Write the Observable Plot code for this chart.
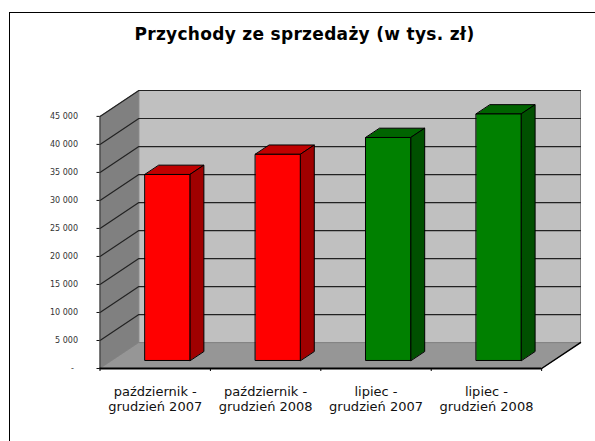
<!DOCTYPE html>
<html><head><meta charset="utf-8">
<script src="https://cdn.jsdelivr.net/npm/d3@7"></script>
<script src="https://cdn.jsdelivr.net/npm/@observablehq/plot@0.6"></script>
<style>html,body{margin:0;padding:0;background:#fff}svg{display:block}</style>
</head><body><div id="chart"></div>
<script>
const categories = ["październik -\ngrudzień 2007","październik -\ngrudzień 2008","lipiec -\ngrudzień 2007","lipiec -\ngrudzień 2008"];
const values = [33200,36800,39800,44000];
const frontColors = ["#ff0000","#ff0000","#008000","#008000"];
const topColors = ["#c00000","#c00000","#006400","#006400"];
const sideColors = ["#a00000","#a00000","#005000","#005000"];
const yTicks = [0,5000,10000,15000,20000,25000,30000,35000,40000,45000];
const yMax = 45000;
// projection: category units + depth share
const depthX = 0.352, depthY = 4620;
const P = (c,v,d)=>({x:c+d*depthX,y:v+d*depthY});
const barL = 0.299, barR = 0.705, d0 = 0.31, d1 = 0.67;
let faces = [];
const face = (pts,fill,stroke)=>faces.push({pts,fill,stroke});
const n = categories.length;
face([P(0,0,0),P(0,yMax,0),P(0,yMax,1),P(0,0,1)],"#808080","#808080");
face([P(0,0,1),P(0,yMax,1),P(n,yMax,1),P(n,0,1)],"#c0c0c0","#808080");
face([P(0,0,0),P(n,0,0),P(n,0,1),P(0,0,1)],"#969696","#808080");
const rows = faces.flatMap((f,i)=>f.pts.map(p=>({...p,i,fill:f.fill,stroke:f.stroke})));
let grid=[];
yTicks.slice(1).forEach((t,i)=>{[P(0,t,0),P(0,t,1),P(n,t,1)].forEach(p=>grid.push({...p,i}))});
let bars=[];
values.forEach((v,k)=>{
 const a=k+barL,b=k+barR;
 const add=(pts,fill)=>pts.forEach(p=>bars.push({...p,i:k+"-"+fill,fill}));
 add([P(a,v,d0),P(b,v,d0),P(b,v,d1),P(a,v,d1)],topColors[k]);
 add([P(b,0,d0),P(b,v,d0),P(b,v,d1),P(b,0,d1)],sideColors[k]);
 add([P(a,0,d0),P(b,0,d0),P(b,v,d0),P(a,v,d0)],frontColors[k]);
});
const labelRows=categories.map((c,k)=>({x:k+0.5,y:0,t:c}));
const chart = Plot.plot({
 width:595,height:441,
 marginLeft:99.5,marginRight:15,marginTop:90,marginBottom:73,
 x:{domain:[0,n+depthX],axis:null},
 y:{domain:[0,yMax+depthY],axis:null},
 style:{background:"#fff",fontFamily:"'DejaVu Sans',Verdana,sans-serif"},
 marks:[
  Plot.line(rows,{x:"x",y:"y",z:"i",fill:{value:d=>d.fill,scale:null},stroke:{value:d=>d.stroke,scale:null},strokeWidth:1,curve:"linear-closed"}),
  Plot.line(grid,{x:"x",y:"y",z:"i",stroke:"#222",strokeWidth:1.2}),
  Plot.line(bars,{x:"x",y:"y",z:"i",fill:{value:d=>d.fill,scale:null},stroke:"#000",strokeWidth:1,curve:"linear-closed"}),
  Plot.axisY({ticks:yTicks,anchor:"left",tickSize:3,tickPadding:19,fontSize:8,fill:"#333",stroke:"#111",label:null,
    tickFormat:d=>d===0?"-\u2002":d3.format(",")(d).replace(",", " ")}),
  Plot.ruleX([0],{y1:0,y2:yMax,stroke:"#333"}),
  Plot.ruleY([0],{x1:0,x2:n,stroke:"#000",strokeWidth:2}),
  Plot.line([P(n,0,0),P(n,0,1)],{x:"x",y:"y",stroke:"#000",strokeWidth:1.5}),
  Plot.axisX({ticks:d3.range(n+1),tickSize:3,tickFormat:()=>"",label:null,stroke:"#000"}),
  Plot.text(labelRows,{x:"x",y:"y",text:"t",dy:17,fontSize:13,fill:"#111",lineHeight:1.15,lineAnchor:"top"})
 ]
});
const wrap=document.getElementById("chart");
wrap.style.cssText="position:relative;width:595px;height:441px;overflow:hidden";
wrap.append(chart);
const title=document.createElement("div");
title.textContent="Przychody ze sprzedaży (w tys. zł)";
title.style.cssText="position:absolute;left:0;width:609px;top:24px;text-align:center;font:bold 17px 'DejaVu Sans',Verdana,sans-serif;letter-spacing:.3px;color:#000";
wrap.append(title);
const box=document.createElement("div");
box.style.cssText="position:absolute;left:9px;top:12px;width:600px;height:450px;border:1px solid #000";
wrap.append(box);
</script></body></html>
